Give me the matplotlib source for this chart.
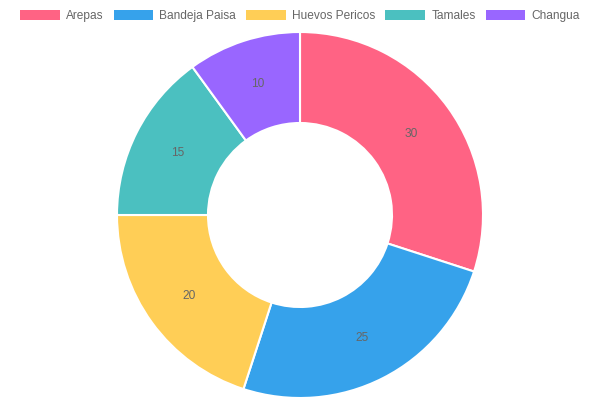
import numpy as np
import matplotlib.pyplot as plt
from matplotlib.patches import Patch

plt.rcParams['font.family'] = ['Liberation Sans', 'DejaVu Sans']

labels = ['Arepas', 'Bandeja Paisa', 'Huevos Pericos', 'Tamales', 'Changua']
values = [30, 25, 20, 15, 10]
colors = ['#FF6384', '#36A2EB', '#FFCE56', '#4BC0C0', '#9966FF']

fig = plt.figure(figsize=(6, 4), dpi=100)
ax = fig.add_axes([0, 0, 1, 1])

outer = 183
inner = 92
cx, cy = 300, 185
ax.pie(values, colors=colors, startangle=90, counterclock=False,
       center=(cx, cy), radius=outer, frame=True,
       wedgeprops=dict(width=outer - inner, edgecolor='white', linewidth=1.5))

# value labels in the middle of the ring
total = sum(values)
start = 90.0
r = (outer + inner) / 2
for v in values:
    ang = np.deg2rad(start - v / total * 180)
    ax.text(cx + r * np.cos(ang), cy + r * np.sin(ang), str(v),
            ha='center', va='center', fontsize=8.6, color='#666666')
    start -= v / total * 360

ax.set_xlim(0, 600)
ax.set_ylim(0, 400)
ax.set_aspect('equal')
ax.axis('off')

handles = [Patch(facecolor=c, edgecolor='none') for c in colors]
fig.legend(handles, labels, loc='upper center', bbox_to_anchor=(0.5, 1.0),
           ncol=5, frameon=False, fontsize=8.6, labelcolor='#666666',
           handlelength=3.33, handleheight=0.83, handletextpad=0.5,
           columnspacing=0.85, borderaxespad=0.45)

fig.savefig('out.png', dpi=100)
